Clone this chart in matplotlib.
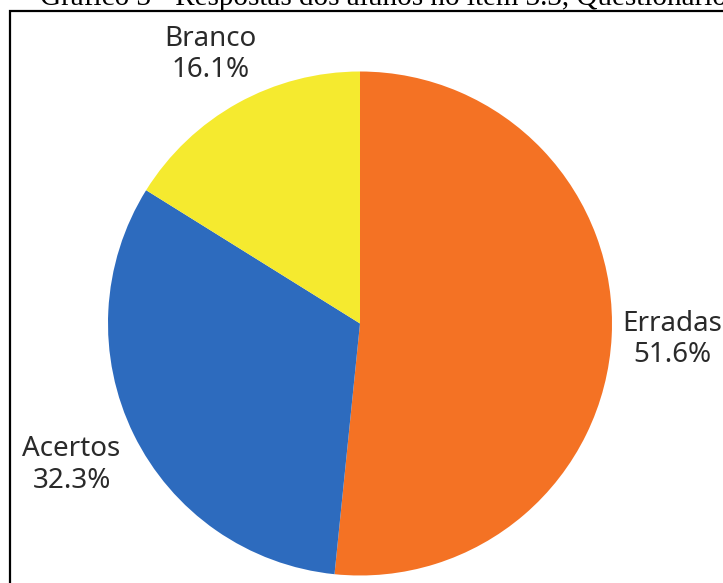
import numpy as np
import matplotlib
matplotlib.use("Agg")
import matplotlib.pyplot as plt
from matplotlib.patches import Rectangle

# data
labels = ["Erradas", "Acertos", "Branco"]
counts = [16, 10, 5]
colors = ["#F47224", "#2D6BBE", "#F5EA2F"]
label_dist = [1.24, 1.275, 1.22]
title = "Gráfico 3 - Respostas dos alunos no item 3.3, Questionário 1"

W, H = 723, 583
fig = plt.figure(figsize=(W / 100, H / 100), dpi=100)
plt.rcParams["font.family"] = ["Noto Sans", "DejaVu Sans"]

# cut-off title at the top edge (as in the source image)
fig.text(40 / W, 1 - 5 / H, title, family="Liberation Serif", fontsize=21,
         ha="left", va="baseline", color="black")

# frame around the chart (right/bottom edges outside the image)
fig.patches.append(Rectangle((9.5 / W, -0.05), 1.0, 1 - 10.5 / H + 0.05,
                             transform=fig.transFigure, fill=False,
                             edgecolor="black", linewidth=1.6))

# pie axes: centre (360, 323.5), radius ~252 px
cx, cy, r = 360, 323.5, 252
ax = fig.add_axes([(cx - r) / W, 1 - (cy + r) / H, 2 * r / W, 2 * r / H])
total = sum(counts)
wedges, texts = ax.pie(
    counts,
    labels=[f"{l}\n{c / total * 100:.1f}%" for l, c in zip(labels, counts)],
    colors=colors,
    startangle=90,
    counterclock=False,
    labeldistance=1.25,
    textprops=dict(fontsize=20, color="#2a2a2a", ha="center", va="center",
                   linespacing=1.15),
)
for w, t, d in zip(wedges, texts, label_dist):
    ang = np.deg2rad((w.theta1 + w.theta2) / 2)
    t.set_position((d * np.cos(ang), d * np.sin(ang)))
    t.set_multialignment("center")
ax.set_xlim(-1, 1)
ax.set_ylim(-1, 1)
ax.set_aspect("equal")
ax.axis("off")

fig.savefig("out.png", dpi=100)
